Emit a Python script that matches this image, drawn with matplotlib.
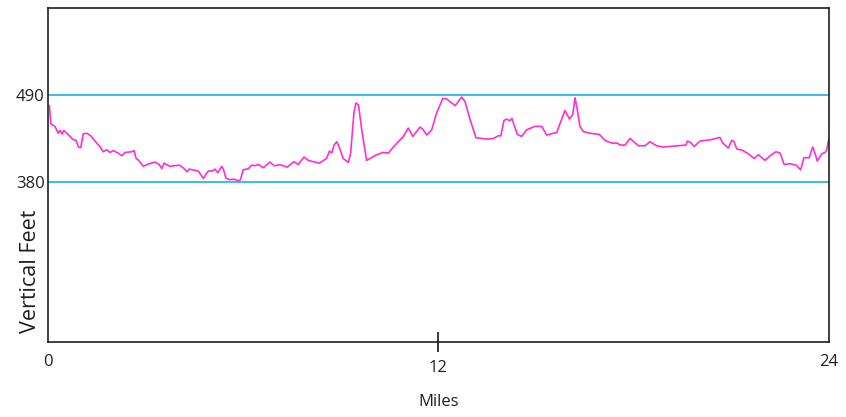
import matplotlib
matplotlib.use("Agg")
import matplotlib.pyplot as plt

plt.rcParams['font.family'] = ['Open Sans', 'DejaVu Sans']

# elevation profile (miles, feet)
miles = [0.06, 0.10, 0.23, 0.33, 0.38, 0.45, 0.50, 0.59, 0.79, 0.88, 0.95, 1.02,
         1.10, 1.20, 1.33, 1.51, 1.61, 1.71, 1.82, 1.92, 2.02, 2.17, 2.28, 2.38,
         2.59, 2.66, 2.72, 2.79, 2.94, 3.10, 3.30, 3.43, 3.51, 3.58, 3.76, 4.05,
         4.17, 4.29, 4.35, 4.63, 4.71, 4.79, 4.89, 4.94, 5.07, 5.14, 5.23, 5.35,
         5.40, 5.48, 5.60, 5.71, 5.89, 5.93, 6.01, 6.17, 6.27, 6.37, 6.47, 6.63,
         6.83, 6.96, 7.14, 7.36, 7.57, 7.70, 7.88, 8.01, 8.35, 8.57, 8.66, 8.73,
         8.80, 8.88, 8.96, 9.08, 9.24, 9.31, 9.41, 9.47, 9.55, 9.65, 9.80, 10.11,
         10.31, 10.47, 10.62, 10.93, 11.08, 11.22, 11.34, 11.44, 11.52, 11.65, 11.80,
         11.95, 12.14, 12.26, 12.52, 12.72, 12.82, 12.98, 13.16, 13.49, 13.69, 13.85,
         13.92, 14.02, 14.10, 14.20, 14.26, 14.43, 14.56, 14.72, 14.97, 15.18, 15.33,
         15.64, 15.89, 16.03, 16.13, 16.20, 16.27, 16.35, 16.46, 16.66, 16.95, 17.12,
         17.33, 17.50, 17.58, 17.74, 17.89, 18.15, 18.35, 18.50, 18.71, 18.91, 19.61,
         19.65, 19.75, 19.86, 20.04, 20.35, 20.65, 20.74, 20.91, 21.01, 21.08, 21.17,
         21.35, 21.52, 21.70, 21.83, 22.04, 22.19, 22.37, 22.50, 22.62, 22.80, 22.99,
         23.13, 23.23, 23.39, 23.50, 23.58, 23.64, 23.78, 23.88, 23.93, 24.00]
feet = [477, 454, 450.6, 442, 445.6, 441, 445.6, 442, 433.8, 433, 424.5, 423.6,
        441.4, 442, 438.8, 429.5, 425, 418.5, 421, 417.6, 420, 416.8, 413.4, 417.6,
        418.5, 420, 410, 408, 400, 403, 405.4, 402.4, 397, 404, 400, 401.6,
        398, 393, 396.5, 394, 389.3, 384.6, 391.4, 394, 394, 396.5, 392, 400,
        396.5, 385, 383, 383.8, 381.3, 383.8, 395.6, 397, 401.6, 400.7, 402.4, 398.2,
        405.4, 400.7, 402, 399, 405.8, 402.4, 411.8, 407.5, 404, 410, 419.4, 416.8,
        427, 431.2, 424.5, 410, 405, 416.8, 467.7, 480.4, 478, 446.5, 407.5, 414.7,
        417.6, 416.8, 424.5, 438, 448.6, 438, 444.3, 449.9, 447.3, 439.7, 446.5,
        467.7, 486.2, 485.5, 477, 488, 482.4, 459, 436.3, 434.6, 435.4, 438.8,
        438.8, 458.3, 460, 457.9, 460.8, 440.5, 438, 446.5, 450.7, 450.7, 439.7,
        443, 471, 460, 465.5, 487, 471.9, 450.7, 444, 442, 440.5, 432.9,
        429.5, 429.5, 427, 427, 435.4, 426.1, 426.1, 431.2, 426.1, 424.5, 427,
        432, 430.3, 425.2, 432, 433.7, 436.7, 429.5, 423.2, 432.9, 431.6, 421.9,
        420.2, 416, 410, 414.7, 407.5, 413.4, 418.5, 416.8, 402.4, 403.3, 401.6,
        395.6, 410.9, 410.9, 424.5, 415.1, 406.7, 416, 417.6, 421, 435.9]

ref_levels = [380, 490]
x_ticks = [0, 12, 24]

fig = plt.figure(figsize=(8.46, 4.17), dpi=100)
ax = fig.add_axes([47.5 / 846, 1 - 342 / 417, 781.5 / 846, 334 / 417])

for lv in ref_levels:
    ax.axhline(lv, color='#29b8ea', lw=1.3, zorder=1)
ax.plot(miles, feet, color='#ff2ed6', lw=1.2, zorder=2)

ax.set_xlim(0, 24)
ax.set_ylim(177, 601)

ax.set_yticks(ref_levels)
ax.set_yticklabels([str(v) for v in ref_levels])
ax.tick_params(axis='y', length=0, pad=2, labelsize=12, labelcolor='#231f20')

# the middle tick crosses the axis; the end ticks are labels only
ax.set_xticks([x_ticks[1]])
ax.set_xticklabels([str(x_ticks[1])])
ax.set_xticks([x_ticks[0], x_ticks[2]], minor=True)
ax.set_xticklabels([str(x_ticks[0]), str(x_ticks[2])], minor=True)
ax.tick_params(axis='x', which='major', direction='inout', length=15, width=1.1,
               pad=5.5, labelsize=12, labelcolor='#231f20')
ax.tick_params(axis='x', which='minor', length=0, pad=9, labelsize=12,
               labelcolor='#231f20')

for s in ax.spines.values():
    s.set_color('#231f20')
    s.set_linewidth(1.2)

fig.text(30 / 846, 1 - 271 / 417, 'Vertical Feet', rotation=90, ha='center',
         va='center', fontsize=15.5, color='#231f20')
fig.text(439 / 846, 1 - 402 / 417, 'Miles', ha='center', va='center',
         fontsize=12, color='#231f20')

fig.savefig('out.png', dpi=100)
